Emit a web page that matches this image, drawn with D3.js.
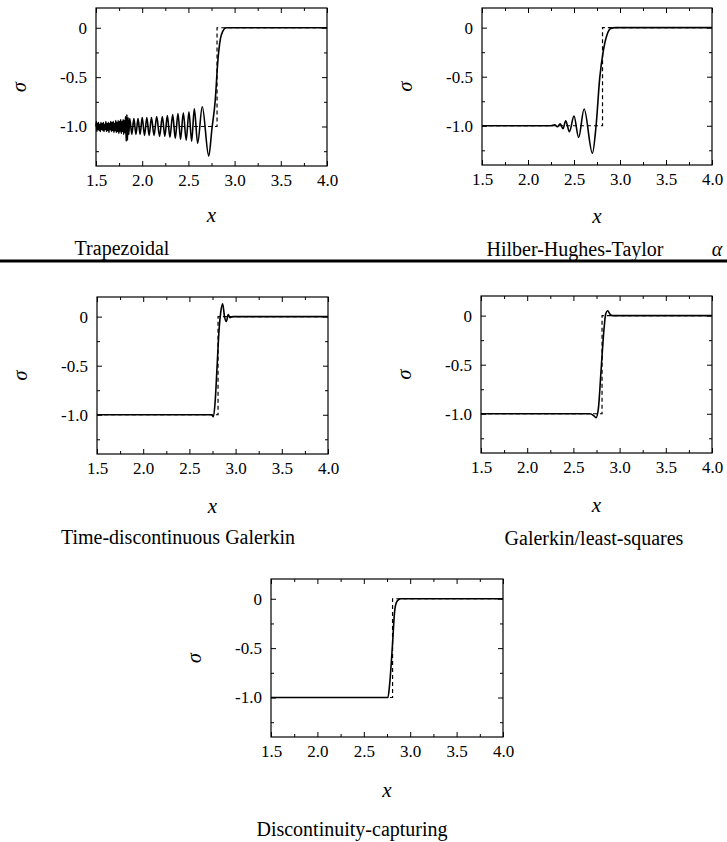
<!DOCTYPE html>
<html>
<head>
<meta charset="utf-8">
<script src="https://cdn.jsdelivr.net/npm/d3@7"></script>
<style>
  body { margin: 0; background: #fff; }
  text { font-family: "Liberation Serif", "DejaVu Serif", serif; fill: #000; }
</style>
</head>
<body>
<script>
// axis ticks
var xMajor = [1.5, 2.0, 2.5, 3.0, 3.5, 4.0];
var xMajorLabels = ['1.5', '2.0', '2.5', '3.0', '3.5', '4.0'];
var xMinor = [1.75, 2.25, 2.75, 3.25, 3.75];
var yMajor = [0, -0.5, -1.0];
var yMajorLabels = ['0', '-0.5', '-1.0'];
var yMinor = [-0.25, -0.75, -1.25];

// exact solution (dashed): jump at the shock front
var exact = [[1.5, -1], [2.81, -1], [2.81, 0], [4.0, 0]];

// computed solutions
var trapezoidal = [
  [1.50,-1.00],[1.505,-0.95],[1.51,-1.05],[1.515,-0.97],[1.52,-1.03],[1.527,-0.96],[1.534,-1.04],
  [1.54,-0.98],[1.547,-1.05],[1.553,-0.96],[1.56,-1.03],[1.567,-0.97],[1.574,-1.04],[1.58,-0.96],
  [1.587,-1.05],[1.594,-0.98],[1.60,-1.03],[1.607,-0.95],[1.614,-1.05],[1.62,-0.97],[1.627,-1.04],
  [1.634,-0.96],[1.64,-1.06],[1.647,-0.97],[1.654,-1.03],[1.66,-0.95],[1.667,-1.05],[1.674,-0.96],
  [1.68,-1.04],[1.687,-0.95],[1.694,-1.06],[1.70,-0.97],[1.707,-1.04],[1.714,-0.94],[1.72,-1.06],
  [1.727,-0.96],[1.734,-1.05],[1.74,-0.94],[1.747,-1.07],[1.754,-0.95],[1.76,-1.05],[1.767,-0.93],
  [1.774,-1.07],[1.78,-0.95],[1.787,-1.05],[1.794,-0.93],[1.80,-1.08],[1.807,-0.94],[1.814,-1.06],
  [1.82,-0.90],[1.827,-1.15],[1.834,-0.88],[1.84,-1.14],[1.847,-0.91],[1.855,-1.08],[1.865,-0.92],
  [1.888,-1.08],[1.91,-0.92],[1.932,-1.08],[1.955,-0.92],[1.977,-1.08],[2.00,-0.91],[2.025,-1.09],
  [2.05,-0.91],[2.075,-1.09],[2.10,-0.91],[2.128,-1.09],[2.157,-0.90],[2.188,-1.10],[2.218,-0.90],
  [2.245,-1.10],[2.272,-0.89],[2.30,-1.11],[2.33,-0.88],[2.358,-1.12],[2.387,-0.87],[2.415,-1.13],
  [2.445,-0.86],[2.476,-1.14],[2.506,-0.85],[2.535,-1.15],[2.564,-0.82],[2.60,-1.17],[2.65,-0.80],
  [2.72,-1.30],[2.755,-1.02],[2.79,-0.74],[2.82,-0.32],[2.845,-0.12],[2.87,-0.04],[2.91,0.00],
  [4.00,0.00]
];

var hht = [
  [1.50,-1.00],[2.25,-1.00],[2.29,-0.99],[2.32,-1.01],[2.35,-0.98],[2.38,-1.03],[2.41,-0.95],
  [2.45,-1.06],[2.50,-0.90],[2.55,-1.12],[2.61,-0.83],[2.70,-1.28],[2.74,-1.00],[2.78,-0.51],
  [2.82,-0.23],[2.86,-0.07],[2.90,-0.01],[2.95,0.00],[4.00,0.00]
];

var tdg = [
  [1.50,-1.00],[2.74,-1.00],[2.76,-1.02],[2.78,-0.85],[2.80,-0.50],[2.82,-0.15],[2.84,0.05],
  [2.86,0.13],[2.88,0.00],[2.90,-0.05],[2.92,0.02],[2.94,-0.01],[2.97,0.00],[4.00,0.00]
];

var gls = [
  [1.50,-1.00],[2.68,-1.00],[2.72,-1.02],[2.745,-1.04],[2.77,-0.95],[2.80,-0.55],[2.83,-0.15],
  [2.85,0.02],[2.87,0.05],[2.90,0.01],[2.92,0.00],[4.00,0.00]
];

var dc = [
  [1.50,-1.00],[2.76,-1.00],[2.78,-0.85],[2.81,-0.45],[2.83,-0.15],[2.85,-0.04],[2.88,-0.005],
  [2.90,0.00],[4.00,0.00]
];

var titles = ['Trapezoidal', 'Hilber-Hughes-Taylor', 'Time-discontinuous Galerkin',
              'Galerkin/least-squares', 'Discontinuity-capturing'];
var series = [trapezoidal, hht, tdg, gls, dc];

// page layout: plot box [left, top, right, bottom], title centre / baselines
var layout = [
  {box: [96, 8, 327, 166],   titleX: 122, titleY: 255, xLabelY: 222},
  {box: [482, 8, 712, 165],  titleX: 575, titleY: 256, xLabelY: 223},
  {box: [97, 297, 328, 454], titleX: 178, titleY: 544, xLabelY: 513},
  {box: [481, 296, 712, 453], titleX: 594, titleY: 545, xLabelY: 512},
  {box: [271, 579, 503, 737], titleX: 352, titleY: 836, xLabelY: 797}
];

var serif = '"Liberation Serif", "DejaVu Serif", serif';

var svg = d3.select('body')
  .append('svg')
  .attr('width', 727)
  .attr('height', 842);

svg.append('rect')
  .attr('width', 727)
  .attr('height', 842)
  .attr('fill', '#fff');

// thick rule under the top row
svg.append('line')
  .attr('x1', 0).attr('x2', 727)
  .attr('y1', 261).attr('y2', 261)
  .attr('stroke', '#000')
  .attr('stroke-width', 3);

function drawPanel(i) {
  var L = layout[i];
  var w = L.box[2] - L.box[0];
  var h = L.box[3] - L.box[1];

  var x = d3.scaleLinear().domain([1.5, 4.0]).range([0, w]);
  var y = d3.scaleLinear().domain([-1.4, 0.2]).range([h, 0]);

  var g = svg.append('g')
    .attr('transform', 'translate(' + L.box[0] + ',' + L.box[1] + ')');

  // ticks on all four sides, pointing inward
  function ticks(axis, tr) {
    var a = g.append('g').attr('transform', tr).call(axis);
    a.select('.domain').remove();
    a.selectAll('line').attr('stroke', '#000');
    a.selectAll('text')
      .style('font-family', serif)
      .style('font-size', '17px')
      .attr('fill', '#000');
    return a;
  }

  ticks(d3.axisBottom(x).tickValues(xMajor).tickSizeInner(-5).tickSizeOuter(0).tickPadding(8)
    .tickFormat(function(d, k) { return xMajorLabels[k]; }), 'translate(0,' + h + ')');
  ticks(d3.axisBottom(x).tickValues(xMinor).tickSizeInner(-3).tickSizeOuter(0).tickFormat(''), 'translate(0,' + h + ')');
  ticks(d3.axisTop(x).tickValues(xMajor).tickSizeInner(-5).tickSizeOuter(0).tickFormat(''), 'translate(0,0)');
  ticks(d3.axisTop(x).tickValues(xMinor).tickSizeInner(-3).tickSizeOuter(0).tickFormat(''), 'translate(0,0)');

  ticks(d3.axisLeft(y).tickValues(yMajor).tickSizeInner(-5).tickSizeOuter(0).tickPadding(9)
    .tickFormat(function(d, k) { return yMajorLabels[k]; }), 'translate(0,0)');
  ticks(d3.axisLeft(y).tickValues(yMinor).tickSizeInner(-3).tickSizeOuter(0).tickFormat(''), 'translate(0,0)');
  ticks(d3.axisRight(y).tickValues(yMajor).tickSizeInner(-5).tickSizeOuter(0).tickFormat(''), 'translate(' + w + ',0)');
  ticks(d3.axisRight(y).tickValues(yMinor).tickSizeInner(-3).tickSizeOuter(0).tickFormat(''), 'translate(' + w + ',0)');

  var line = d3.line()
    .x(function(d) { return x(d[0]); })
    .y(function(d) { return y(d[1]); });

  g.append('path')
    .datum(exact)
    .attr('d', line)
    .attr('fill', 'none')
    .attr('stroke', '#000')
    .attr('stroke-width', 1.2)
    .attr('stroke-dasharray', '4,3');

  g.append('path')
    .datum(series[i])
    .attr('d', line.curve(d3.curveMonotoneX))
    .attr('fill', 'none')
    .attr('stroke', '#000')
    .attr('stroke-width', 1.6);

  g.append('rect')
    .attr('width', w)
    .attr('height', h)
    .attr('fill', 'none')
    .attr('stroke', '#000')
    .attr('stroke-width', 1.2);

  // axis titles
  g.append('text')
    .attr('transform', 'translate(-76,' + (h / 2) + ') rotate(-90)')
    .attr('text-anchor', 'middle')
    .attr('dy', '0.3em')
    .attr('font-size', 20)
    .attr('font-style', 'italic')
    .text('σ');

  svg.append('text')
    .attr('x', L.box[0] + w / 2)
    .attr('y', L.xLabelY)
    .attr('text-anchor', 'middle')
    .attr('font-size', 21)
    .attr('font-style', 'italic')
    .text('x');

  svg.append('text')
    .attr('x', L.titleX)
    .attr('y', L.titleY)
    .attr('text-anchor', 'middle')
    .attr('font-size', 20)
    .text(titles[i]);
}

for (var i = 0; i < series.length; i++) drawPanel(i);

svg.append('text')
  .attr('x', 717)
  .attr('y', 256)
  .attr('text-anchor', 'middle')
  .attr('font-size', 20)
  .attr('font-style', 'italic')
  .text('α');
</script>
</body>
</html>
